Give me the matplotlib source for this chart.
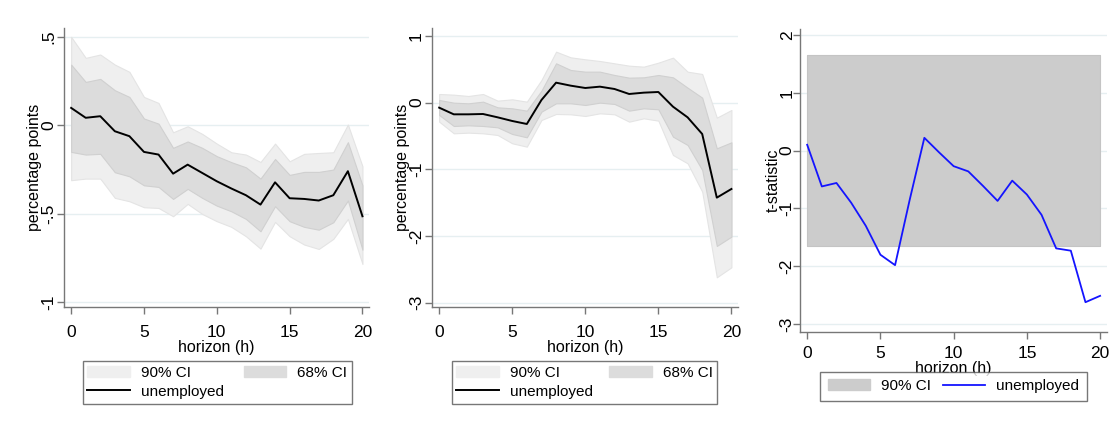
import numpy as np
import matplotlib
matplotlib.use("Agg")
import matplotlib.pyplot as plt
from matplotlib.patches import Patch
from matplotlib.lines import Line2D

plt.rcParams["font.family"] = ["Liberation Sans", "DejaVu Sans"]

horizon = list(range(21))

# Panel 1: response of unemployed (percentage points)
p1_irf = [0.098, 0.042, 0.051, -0.034, -0.062, -0.151, -0.166, -0.274, -0.223, -0.270,
          -0.317, -0.358, -0.396, -0.449, -0.323, -0.413, -0.417, -0.426, -0.396, -0.260, -0.515]
p1_hi68 = [0.343, 0.245, 0.262, 0.198, 0.160, 0.038, 0.009, -0.128, -0.092, -0.128,
           -0.175, -0.209, -0.238, -0.302, -0.191, -0.281, -0.264, -0.264, -0.251, -0.096, -0.340]
p1_lo68 = [-0.151, -0.166, -0.162, -0.266, -0.289, -0.340, -0.349, -0.417, -0.360, -0.411,
           -0.455, -0.487, -0.530, -0.600, -0.458, -0.543, -0.575, -0.591, -0.549, -0.426, -0.704]
p1_hi90 = [0.500, 0.381, 0.400, 0.343, 0.302, 0.160, 0.126, -0.040, -0.006, -0.049,
           -0.104, -0.153, -0.166, -0.208, -0.104, -0.204, -0.162, -0.157, -0.153, 0.004, -0.232]
p1_lo90 = [-0.311, -0.302, -0.302, -0.411, -0.430, -0.464, -0.468, -0.515, -0.445, -0.502,
           -0.543, -0.575, -0.628, -0.698, -0.547, -0.628, -0.675, -0.700, -0.643, -0.530, -0.785]

# Panel 2: response of unemployed (percentage points)
p2_irf = [-0.075, -0.175, -0.175, -0.17, -0.22, -0.275, -0.32, 0.04, 0.30, 0.255,
          0.22, 0.24, 0.205, 0.13, 0.15, 0.16, -0.06, -0.22, -0.47, -1.425, -1.295]
p2_hi68 = [0.04, 0.0, -0.01, 0.015, -0.07, -0.085, -0.12, 0.18, 0.59, 0.49,
           0.465, 0.465, 0.415, 0.375, 0.38, 0.415, 0.38, 0.225, 0.075, -0.685, -0.595]
p2_lo68 = [-0.185, -0.35, -0.34, -0.35, -0.37, -0.47, -0.52, -0.135, -0.01, -0.01,
           -0.035, 0.0, -0.02, -0.12, -0.085, -0.1, -0.51, -0.635, -1.01, -2.15, -2.01]
p2_hi90 = [0.13, 0.12, 0.10, 0.13, 0.03, 0.05, 0.015, 0.34, 0.765, 0.68,
           0.65, 0.625, 0.59, 0.555, 0.54, 0.60, 0.675, 0.465, 0.43, -0.225, -0.11]
p2_lo90 = [-0.285, -0.46, -0.45, -0.46, -0.485, -0.61, -0.66, -0.26, -0.17, -0.175,
           -0.20, -0.16, -0.175, -0.285, -0.235, -0.27, -0.785, -0.91, -1.335, -2.62, -2.47]

# Panel 3: t-statistic of the difference
p3_t = [0.10, -0.62, -0.56, -0.90, -1.30, -1.80, -1.98, -0.85, 0.22, -0.03,
        -0.27, -0.36, -0.61, -0.87, -0.52, -0.76, -1.11, -1.69, -1.73, -2.62, -2.51]
t_crit = 1.645

p1_ticks = [0.5, 0, -0.5, -1]
p1_ticklabels = [".5", "0", "-.5", "-1"]
p2_ticks = [1, 0, -1, -2, -3]
p2_ticklabels = ["1", "0", "-1", "-2", "-3"]
p3_ticks = [2, 1, 0, -1, -2, -3]
p3_ticklabels = ["2", "1", "0", "-1", "-2", "-3"]
x_ticks = [0, 5, 10, 15, 20]

C90 = "#efefef"
C68 = "#dcdcdc"
CT = "#cccccc"
GRID = "#e6eff1"
SPINE = "#777777"

W, H = 1113, 428
fig = plt.figure(figsize=(W / 100, H / 100), dpi=100)


def px_axes(x0, x1, ytop, ybot):
    return fig.add_axes([x0 / W, 1 - ybot / H, (x1 - x0) / W, (ybot - ytop) / H])


def style(ax, yt, ytl, ylim, ylabel, ypad=1, ylabpad=-1, xpad=8, xlabpad=0):
    ax.set_xlim(-0.47, 20.45)
    ax.set_ylim(*ylim)
    ax.set_xticks(x_ticks)
    ax.set_yticks(yt)
    ax.set_yticklabels(ytl, rotation=90, va="center")
    for s in ("top", "right"):
        ax.spines[s].set_visible(False)
    for s in ("left", "bottom"):
        ax.spines[s].set_color(SPINE)
        ax.spines[s].set_linewidth(1.0)
    ax.tick_params(axis="both", colors=SPINE, labelcolor="black", labelsize=12.5,
                   length=5, width=1.0)
    ax.tick_params(axis="x", pad=xpad)
    ax.tick_params(axis="y", pad=ypad)
    ax.yaxis.grid(True, color=GRID, linewidth=1.0)
    ax.set_axisbelow(True)
    ax.set_xlabel("horizon (h)", fontsize=11.5, labelpad=xlabpad)
    ax.set_ylabel(ylabel, fontsize=11.5, labelpad=ylabpad)


def band_panel(ax, irf, lo90, hi90, lo68, hi68):
    ax.fill_between(horizon, lo90, hi90, facecolor=C90, edgecolor="#e4e4e4", linewidth=0.8, zorder=2)
    ax.fill_between(horizon, lo68, hi68, facecolor=C68, edgecolor="#d0d0d0", linewidth=0.8, zorder=3)
    ax.plot(horizon, irf, color="black", linewidth=1.4, zorder=4)


def add_legend(ax, handles, labels, x0, x1, ytop, ybot, ncol, borderpad=0.3, spacing=0.35):
    leg = ax.legend(handles, labels, ncol=ncol, mode="expand",
                    bbox_to_anchor=(x0 / W, 1 - ybot / H, (x1 - x0) / W, (ybot - ytop) / H),
                    bbox_transform=fig.transFigure, loc="upper left",
                    fontsize=11, frameon=True, fancybox=False, borderaxespad=0,
                    handlelength=2.8, handleheight=0.75, handletextpad=0.7,
                    borderpad=borderpad, labelspacing=spacing, columnspacing=2.0)
    fr = leg.get_frame()
    fr.set_edgecolor("#555555")
    fr.set_linewidth(1.0)
    return leg


# Panel 1
ax1 = px_axes(64.3, 369, 28, 307.3)
band_panel(ax1, p1_irf, p1_lo90, p1_hi90, p1_lo68, p1_hi68)
style(ax1, p1_ticks, p1_ticklabels, (-1.03, 0.55), "percentage points")
h90 = Patch(facecolor=C90, edgecolor=C90)
h68 = Patch(facecolor=C68, edgecolor=C68)
hline = Line2D([], [], color="black", linewidth=1.4)
add_legend(ax1, [h90, hline, h68], ["90% CI", "unemployed", "68% CI"],
           82.7, 351.7, 361, 401.7, 2)

# Panel 2
ax2 = px_axes(432.3, 738, 28, 307.3)
band_panel(ax2, p2_irf, p2_lo90, p2_hi90, p2_lo68, p2_hi68)
style(ax2, p2_ticks, p2_ticklabels, (-3.07, 1.12), "percentage points")
add_legend(ax2, [h90, hline, h68], ["90% CI", "unemployed", "68% CI"],
           451.7, 717.3, 361, 401.7, 2)

# Panel 3
ax3 = px_axes(800.3, 1106.7, 29, 332.3)
ax3.fill_between([0, 20], [-t_crit, -t_crit], [t_crit, t_crit],
                 facecolor=CT, edgecolor="#c4c4c4", linewidth=0.8, zorder=2)
ax3.plot(horizon, p3_t, color="#1414ff", linewidth=1.3, zorder=4)
style(ax3, p3_ticks, p3_ticklabels, (-3.14, 2.1), "t-statistic",
      ypad=-1, ylabpad=-1, xpad=5, xlabpad=0)
hT = Patch(facecolor=CT, edgecolor=CT)
hblue = Line2D([], [], color="#1414ff", linewidth=1.3)
add_legend(ax3, [hT, hblue], ["90% CI", "unemployed"], 820, 1086.7, 371.5, 406, 2,
           borderpad=0.5)

fig.savefig("out.png", dpi=100, facecolor="white")
